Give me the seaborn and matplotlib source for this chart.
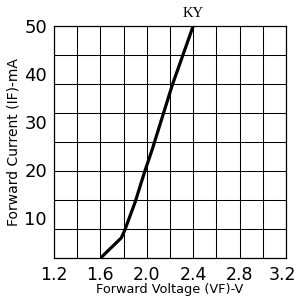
import numpy as np
import pandas as pd
import matplotlib
matplotlib.use("Agg")
import matplotlib.pyplot as plt
import matplotlib.transforms as mtransforms
import seaborn as sns

# forward voltage (V) vs forward current (mA)
vf_volts = [1.61, 1.78, 1.81, 1.90, 1.98, 2.05, 2.22, 2.40]
if_ma = [1.8, 5.8, 7.4, 13.3, 19.5, 24.5, 37.7, 50.0]

x_ticks = [1.2, 1.6, 2.0, 2.4, 2.8, 3.2]
y_ticks = [10, 20, 30, 40, 50]
curve_label = "KY"

sns.set_style("white")
plt.rcParams["font.family"] = ["DejaVu Sans"]
plt.rcParams["text.color"] = "black"
plt.rcParams["xtick.color"] = "black"
plt.rcParams["ytick.color"] = "black"
plt.rcParams["axes.labelcolor"] = "black"

df = pd.DataFrame({"vf": vf_volts, "if": if_ma})

fig = plt.figure(figsize=(2.97, 2.98), dpi=100)
ax = fig.add_axes([0.1818, 0.1342, 0.7812, 0.7786])

sns.lineplot(data=df, x="vf", y="if", ax=ax, color="black", lw=2.3,
             sort=False, estimator=None)

ax.set_xlim(1.2, 3.2)
ax.set_ylim(1.6, 50)
ax.set_xticks(x_ticks)
ax.set_yticks(y_ticks)
ax.set_xticks(np.arange(1.2, 3.21, 0.2), minor=True)
ax.set_yticks(np.linspace(1.6, 50, 9), minor=True)
ax.grid(which="minor", color="black", lw=0.75)
ax.xaxis.grid(which="major", color="black", lw=0.75)
ax.yaxis.grid(which="major", visible=False)
ax.tick_params(which="both", length=0)
ax.tick_params(axis="x", pad=6)
ax.tick_params(axis="y", pad=5)

ax.set_xticklabels([f"{v:.1f}" for v in x_ticks], size=12.5)
ax.set_yticklabels([str(v) for v in y_ticks], size=13)

# keep the last x label inside the figure
shift = mtransforms.ScaledTranslation(-4 / 100, 0, fig.dpi_scale_trans)
last = ax.get_xticklabels()[-1]
last.set_transform(last.get_transform() + shift)

for s in ax.spines.values():
    s.set_color("black")
    s.set_linewidth(0.9)

ax.set_xlabel("Forward Voltage (VF)-V", labelpad=-1, size=9.3)
ax.set_ylabel("Forward Current (IF)-mA", labelpad=3, size=10)

ax.text(2.40, 51.2, curve_label, ha="center", va="bottom",
        family="Liberation Serif", size=10.5)

fig.savefig("out.png", dpi=100)
